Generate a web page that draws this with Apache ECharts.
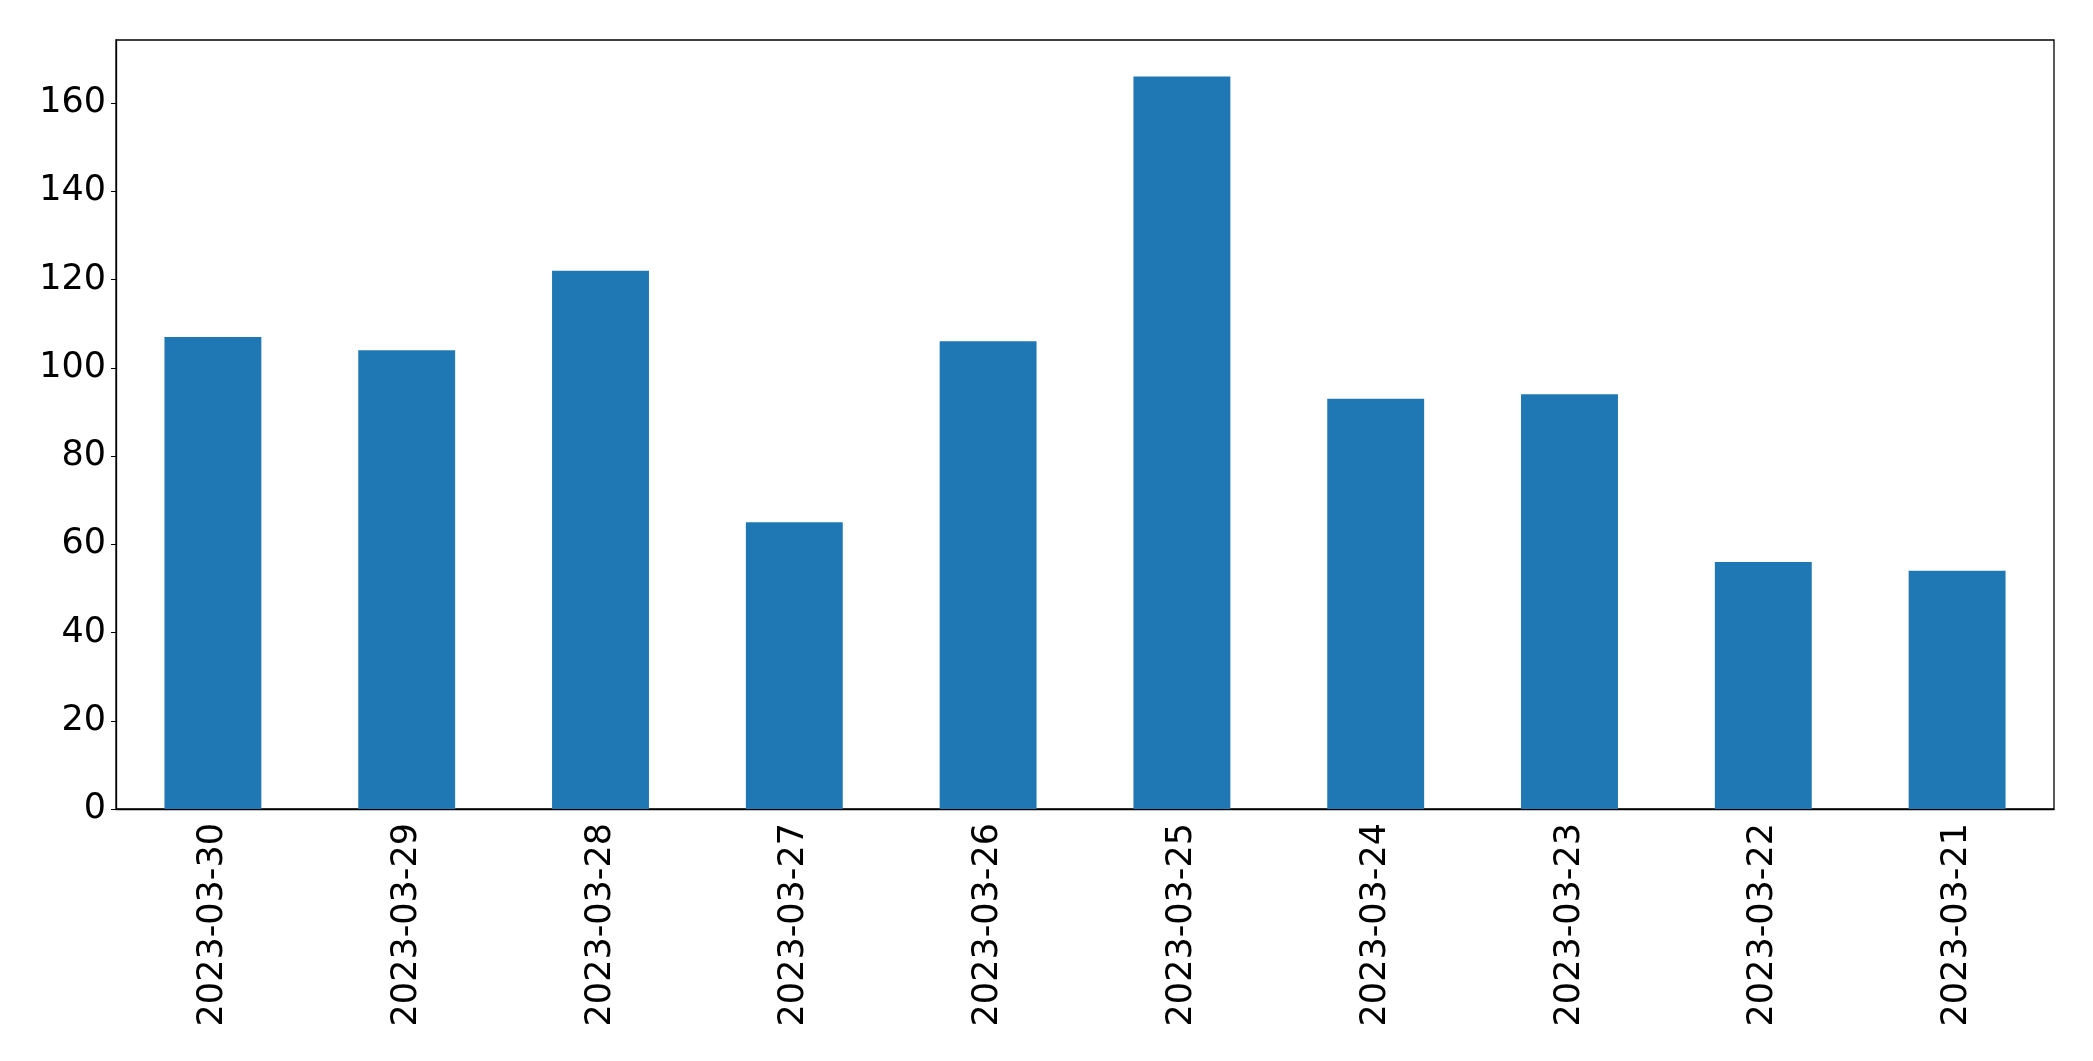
<!DOCTYPE html>
<html>
<head>
<meta charset="utf-8">
<script src="https://cdn.jsdelivr.net/npm/echarts@6/dist/echarts.min.js"></script>
<style>html,body{margin:0;padding:0;background:#fff;}#c{width:2093px;height:1061px;}</style>
</head>
<body>
<div id="c"></div>
<script>
const categories = ["2023-03-30","2023-03-29","2023-03-28","2023-03-27","2023-03-26","2023-03-25","2023-03-24","2023-03-23","2023-03-22","2023-03-21"];
const values = [107,104,122,65,106,166,93,94,56,54];
const yTicks = [0,20,40,60,80,100,120,140,160];
const yMax = 174.3;

const chart = echarts.init(document.getElementById('c'));
chart.setOption({
  animation: false,
  backgroundColor: '#fff',
  grid: {left: 116, right: 39, top: 40, bottom: 252, show: true, borderColor: '#000', borderWidth: 1.3, backgroundColor: 'transparent'},
  xAxis: {
    type: 'category', data: categories,
    axisLine: {lineStyle: {color: '#000', width: 1.3}},
    axisTick: {alignWithLabel: true, length: 5, lineStyle: {color: '#000'}},
    axisLabel: {rotate: 90, fontSize: 35, color: '#000', fontFamily: 'DejaVu Sans', margin: 14, interval: 0}
  },
  yAxis: {
    type: 'value', min: 0, max: yMax,
    splitLine: {show: false},
    axisLine: {show: true, lineStyle: {color: '#000', width: 1.3}},
    axisTick: {show: true, length: 5, lineStyle: {color: '#000'}, customValues: yTicks},
    axisLabel: {fontSize: 35, color: '#000', fontFamily: 'DejaVu Sans', margin: 10, customValues: yTicks}
  },
  series: [{type: 'bar', data: values, barWidth: '50%', itemStyle: {color: '#1f77b4'}}]
});
</script>
</body>
</html>
